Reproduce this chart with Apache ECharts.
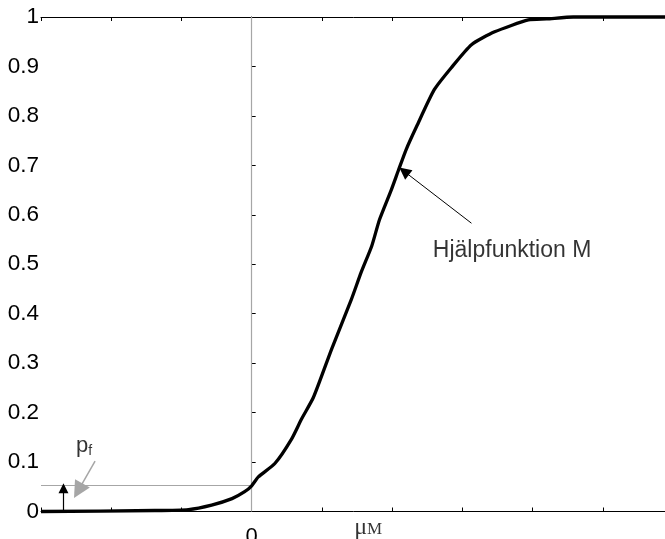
<!DOCTYPE html>
<html>
<head>
<meta charset="utf-8">
<script src="https://cdn.jsdelivr.net/npm/echarts@6/dist/echarts.min.js"></script>
<style>html,body{margin:0;padding:0;background:#fff}#c{width:665px;height:539px}</style>
</head>
<body>
<div id="c"></div>
<script>
// Empirical CDF of help function M (x in axis units, 0 at origin tick)
const curveX = [-3, -1.38, -0.9, -0.57, -0.28, -0.10, 0, 0.095, 0.33, 0.57, 0.71, 0.88, 1.14, 1.42, 1.56, 1.71, 1.82, 1.99, 2.09, 2.20, 2.35, 2.60, 2.84, 3.13, 3.46, 3.94, 4.20, 4.58, 6];
const curveY = [0, 0.002, 0.004, 0.013, 0.026, 0.04, 0.052, 0.07, 0.097, 0.147, 0.187, 0.231, 0.329, 0.429, 0.484, 0.537, 0.59, 0.651, 0.69, 0.732, 0.779, 0.853, 0.897, 0.944, 0.97, 0.994, 0.996, 1.0, 1.0];
const yTicks = [0, 0.1, 0.2, 0.3, 0.4, 0.5, 0.6, 0.7, 0.8, 0.9, 1];
const xLabels = {0: '0'};
const pf = 0.053;
const muM = 1.66;

const curve = curveX.map((x, i) => [x, curveY[i]]);
const sans = 'Liberation Sans, Arial, sans-serif';
const serif = 'Liberation Serif, Times New Roman, serif';

const chart = echarts.init(document.getElementById('c'));
chart.setOption({
  animation: false,
  backgroundColor: '#fff',
  grid: {left: 41, right: -8, top: 17, bottom: 27.5, containLabel: false, outerBoundsMode: 'none'},
  xAxis: [{
    type: 'value', min: -3, max: 6, interval: 1,
    axisLine: {show: true, lineStyle: {color: '#000', width: 1}},
    axisTick: {show: true, inside: true, length: 4, lineStyle: {color: '#000'}},
    splitLine: {show: false},
    axisLabel: {formatter: v => xLabels[v] || '', fontSize: 22, fontFamily: sans, color: '#000', margin: 14}
  }, {
    type: 'value', min: -3, max: 6, interval: 1, position: 'top',
    axisLine: {show: true, onZero: false, lineStyle: {color: '#000', width: 1}},
    axisTick: {show: true, inside: true, length: 4, lineStyle: {color: '#000'}},
    splitLine: {show: false}, axisLabel: {show: false}
  }],
  yAxis: [{
    type: 'value', min: 0, max: 1, interval: 0.1,
    axisLine: {show: true, lineStyle: {color: '#000', width: 1}},
    axisTick: {show: true, inside: true, length: 4, lineStyle: {color: '#000'}},
    splitLine: {show: false},
    axisLabel: {formatter: v => {const t = yTicks.find(k => Math.abs(k - v) < 1e-9); return t === undefined ? '' : String(t);}, fontSize: 22.5, fontFamily: sans, color: '#000', margin: 2, padding: [7, 0, 0, 0]}
  }, {
    type: 'value', min: 0, max: 1, interval: 0.1, position: 'right',
    axisLine: {show: true, onZero: false, lineStyle: {color: '#000'}},
    axisTick: {show: true, inside: true, length: 4}, splitLine: {show: false}, axisLabel: {show: false}
  }],
  series: [{
    type: 'line', data: [], silent: true,
    markLine: {
      silent: true, animation: false, label: {show: false}, symbol: ['none', 'none'],
      data: [
        [{coord: [0, 0], lineStyle: {color: '#a6a6a6', width: 1.2, type: 'solid'}}, {coord: [0, 1]}],
        [{coord: [-3, pf], lineStyle: {color: '#a6a6a6', width: 1.2, type: 'solid'}}, {coord: [0, pf]}],
        [{coord: [-2.23, 0.102], symbol: 'none', lineStyle: {color: '#a6a6a6', width: 1.5, type: 'solid'}}, {coord: [-2.47, 0.042], symbol: 'triangle', symbolSize: 17, itemStyle: {color: '#a6a6a6'}}],
        [{coord: [-2.68, 0], symbol: 'none', lineStyle: {color: '#000', width: 1.2, type: 'solid'}}, {coord: [-2.68, 0.047], symbol: 'triangle', symbolSize: 10, itemStyle: {color: '#000'}}],
        [{coord: [3.13, 0.583], symbol: 'none', lineStyle: {color: '#000', width: 1, type: 'solid'}}, {coord: [2.17, 0.688], symbol: 'triangle', symbolSize: 12, itemStyle: {color: '#000'}}]
      ]
    }
  }, {
    type: 'line', data: curve, symbol: 'none', smooth: 0.2, clip: false, z: 5,
    lineStyle: {color: '#000', width: 3.3, join: 'round'}
  }, {
    type: 'scatter', symbolSize: 0, silent: true, z: 6,
    data: [
      {value: [2.58, 0.527], label: {show: true, position: 'right', distance: 0, formatter: 'Hjälpfunktion M', fontSize: 23, fontFamily: sans, color: '#000'}},
      {value: [-2.5, 0.132], label: {show: true, position: 'right', distance: 0, formatter: '{p|p}{f|f}', rich: {p: {fontSize: 22, fontFamily: sans, color: '#000'}, f: {fontSize: 14, fontFamily: sans, color: '#000', padding: [10, 0, 0, 0]}}}},
      {value: [muM, 0], label: {show: true, position: 'bottom', distance: 4, formatter: '{m|μ}{s|M}', rich: {m: {fontSize: 24, fontFamily: serif, color: '#000'}, s: {fontSize: 17, fontFamily: serif, color: '#000', padding: [5, 0, 0, 0]}}}}
    ]
  }]
});
</script>
</body>
</html>
